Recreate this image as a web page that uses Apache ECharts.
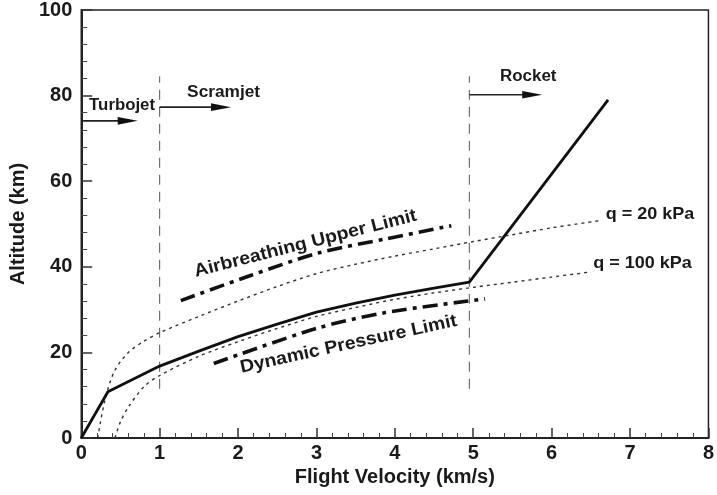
<!DOCTYPE html>
<html>
<head>
<meta charset="utf-8">
<script src="https://cdn.jsdelivr.net/npm/echarts@6/dist/echarts.min.js"></script>
<style>
  html, body { margin: 0; padding: 0; background: #fff; }
  #chart { width: 717px; height: 495px; }
</style>
</head>
<body>
<div id="chart"></div>
<script>
// Flight trajectory (velocity km/s, altitude km)
const pathV = [0, 0.34, 1, 1.5, 2, 2.5, 3, 3.5, 4, 4.5, 4.95, 6.72];
const pathH = [0, 10.8, 16.8, 20.3, 23.7, 26.6, 29.4, 31.5, 33.4, 35.0, 36.4, 79];

// Constant dynamic pressure: q = 20 kPa
const q20V = [0.21, 0.3, 0.42, 0.6, 0.8, 1, 1.5, 2, 2.5, 3, 3.5, 4, 4.5, 5, 5.5, 6, 6.62];
const q20H = [0, 8.7, 15.5, 20, 22.6, 24.6, 28.4, 32, 35.4, 38.4, 40.6, 42.5, 44.2, 45.9, 47.5, 49.1, 50.8];

// Constant dynamic pressure: q = 100 kPa
const q100V = [0.43, 0.5, 0.6, 0.8, 1, 1.5, 2, 2.5, 3, 3.5, 4, 4.5, 5, 5.5, 6, 6.5];
const q100H = [0, 3.8, 7.2, 12, 14.6, 19.1, 22.5, 25.6, 28.4, 30.5, 32.4, 33.9, 35.2, 36.4, 37.6, 38.8];

// Airbreathing upper limit
const upperV = [1.27, 2.15, 3.02, 3.88, 4.72];
const upperH = [32.1, 37.9, 43.2, 46.5, 49.6];

// Dynamic pressure limit
const lowerV = [1.69, 3.0, 3.88, 5.15];
const lowerH = [17.4, 25.6, 29.3, 32.5];

// Propulsion mode boundaries
const boundaryV = [1, 4.95];
const boundaryH = [11.5, 84.5];

// Propulsion mode arrows
const arrowFrom = [0, 1, 4.95];
const arrowTo = [0.72, 1.91, 5.88];
const arrowAlt = [74.1, 77.3, 80.2];

// Tick labels
const xTicks = [0, 1, 2, 3, 4, 5, 6, 7, 8];
const yTicks = [0, 20, 40, 60, 80, 100];

// Text annotations placed in data units
const notes = [
  { text: 'Turbojet', v: 0.1, h: 77.7, rot: 0, size: 16, sx: 1.05, align: 'left' },
  { text: 'Scramjet', v: 1.35, h: 80.8, rot: 0, size: 16, sx: 1.08, align: 'left' },
  { text: 'Rocket', v: 5.34, h: 84.4, rot: 0, size: 16, sx: 1.06, align: 'left' },
  { text: 'q = 20 kPa', v: 6.69, h: 52.3, rot: 0, size: 17, sx: 1.06, align: 'left' },
  { text: 'q = 100 kPa', v: 6.53, h: 40.7, rot: 0, size: 17, sx: 1.06, align: 'left' },
  { text: 'Airbreathing Upper Limit', v: 2.86, h: 45.4, rot: 14.3, size: 18, sx: 1.08, align: 'center' },
  { text: 'Dynamic Pressure Limit', v: 3.41, h: 21.9, rot: 12.3, size: 18, sx: 1.08, align: 'center' }
];

const FONT = '"Liberation Sans", Arial, Helvetica, sans-serif';
const INK = '#1a1a1a';

const zip = (a, b) => a.map((v, i) => [v, b[i]]);

function curve(xs, ys, lineStyle, smooth) {
  return {
    type: 'line',
    data: zip(xs, ys),
    symbol: 'none',
    smooth: smooth ? 0.3 : false,
    lineStyle: lineStyle,
    silent: true,
    z: 3
  };
}

const dotted = { color: '#333', width: 1.4, type: [3, 4] };
const dashDot = { color: '#111', width: 3.6, type: [15, 6, 4, 6], cap: 'butt' };

const chart = echarts.init(document.getElementById('chart'), null, { renderer: 'canvas' });

chart.setOption({
  animation: false,
  backgroundColor: '#fff',
  grid: {
    left: 80, right: 4, top: 8, bottom: 57,
    show: true, borderColor: '#222', borderWidth: 1.5, backgroundColor: 'transparent'
  },
  xAxis: {
    type: 'value',
    min: xTicks[0], max: xTicks[xTicks.length - 1], interval: 1,
    name: 'Flight Velocity (km/s)',
    nameLocation: 'middle', nameGap: 24,
    nameTextStyle: { fontFamily: FONT, fontWeight: 'bold', fontSize: 20, color: INK },
    axisLine: { show: true, lineStyle: { color: '#222', width: 2 } },
    axisTick: { show: true, inside: true, length: 10, lineStyle: { color: '#333', width: 1.5 } },
    minorTick: { show: true, splitNumber: 5, length: 5, lineStyle: { color: '#444', width: 1 } },
    axisLabel: { fontFamily: FONT, fontWeight: 'bold', fontSize: 20, color: INK, margin: 5 },
    splitLine: { show: false }
  },
  yAxis: {
    type: 'value',
    min: yTicks[0], max: yTicks[yTicks.length - 1], interval: 20,
    name: 'Altitude (km)',
    nameLocation: 'middle', nameGap: 47,
    nameTextStyle: { fontFamily: FONT, fontWeight: 'bold', fontSize: 20, color: INK },
    axisLine: { show: true, lineStyle: { color: '#222', width: 2 } },
    axisTick: { show: true, inside: true, length: 11, lineStyle: { color: '#333', width: 1.5 } },
    minorTick: { show: true, splitNumber: 5, length: 6, lineStyle: { color: '#444', width: 1 } },
    axisLabel: { fontFamily: FONT, fontWeight: 'bold', fontSize: 20, color: INK, margin: 9 },
    splitLine: { show: false }
  },
  series: [
    // mode boundaries
    ...boundaryV.map(v => ({
      type: 'line',
      data: [[v, boundaryH[0]], [v, boundaryH[1]]],
      symbol: 'none', silent: true, z: 2,
      lineStyle: { color: '#555', width: 1, type: [10, 7] }
    })),
    curve(q20V, q20H, dotted, true),
    curve(q100V, q100H, dotted, true),
    curve(upperV, upperH, dashDot, true),
    curve(lowerV, lowerH, dashDot, true),
    curve(pathV, pathH, { color: '#111', width: 2.8 }, false),
    // arrows for propulsion modes
    {
      type: 'custom',
      silent: true,
      z: 4,
      data: arrowAlt.map((h, i) => [arrowFrom[i], arrowTo[i], h]),
      encode: { x: [0, 1], y: 2 },
      renderItem: function (params, api) {
        const a = api.coord([api.value(0), api.value(2)]);
        const b = api.coord([api.value(1), api.value(2)]);
        return {
          type: 'group',
          children: [
            { type: 'line', shape: { x1: a[0], y1: a[1], x2: b[0] - 12, y2: b[1] },
              style: { stroke: '#222', lineWidth: 1.6 } },
            { type: 'polygon', shape: { points: [[b[0], b[1]], [b[0] - 20, b[1] - 3.8], [b[0] - 20, b[1] + 3.8]] },
              style: { fill: '#111' } }
          ]
        };
      }
    },
    // text annotations
    {
      type: 'custom',
      silent: true,
      z: 5,
      data: notes.map(n => [n.v, n.h]),
      encode: { x: 0, y: 1 },
      renderItem: function (params, api) {
        const n = notes[params.dataIndex];
        const p = api.coord([api.value(0), api.value(1)]);
        return {
          type: 'text',
          x: p[0], y: p[1],
          rotation: n.rot * Math.PI / 180,
          scaleX: n.sx,
          style: {
            text: n.text,
            fontFamily: FONT, fontWeight: 'bold', fontSize: n.size,
            fill: INK, align: n.align, verticalAlign: 'middle'
          }
        };
      }
    }
  ]
});
</script>
</body>
</html>
